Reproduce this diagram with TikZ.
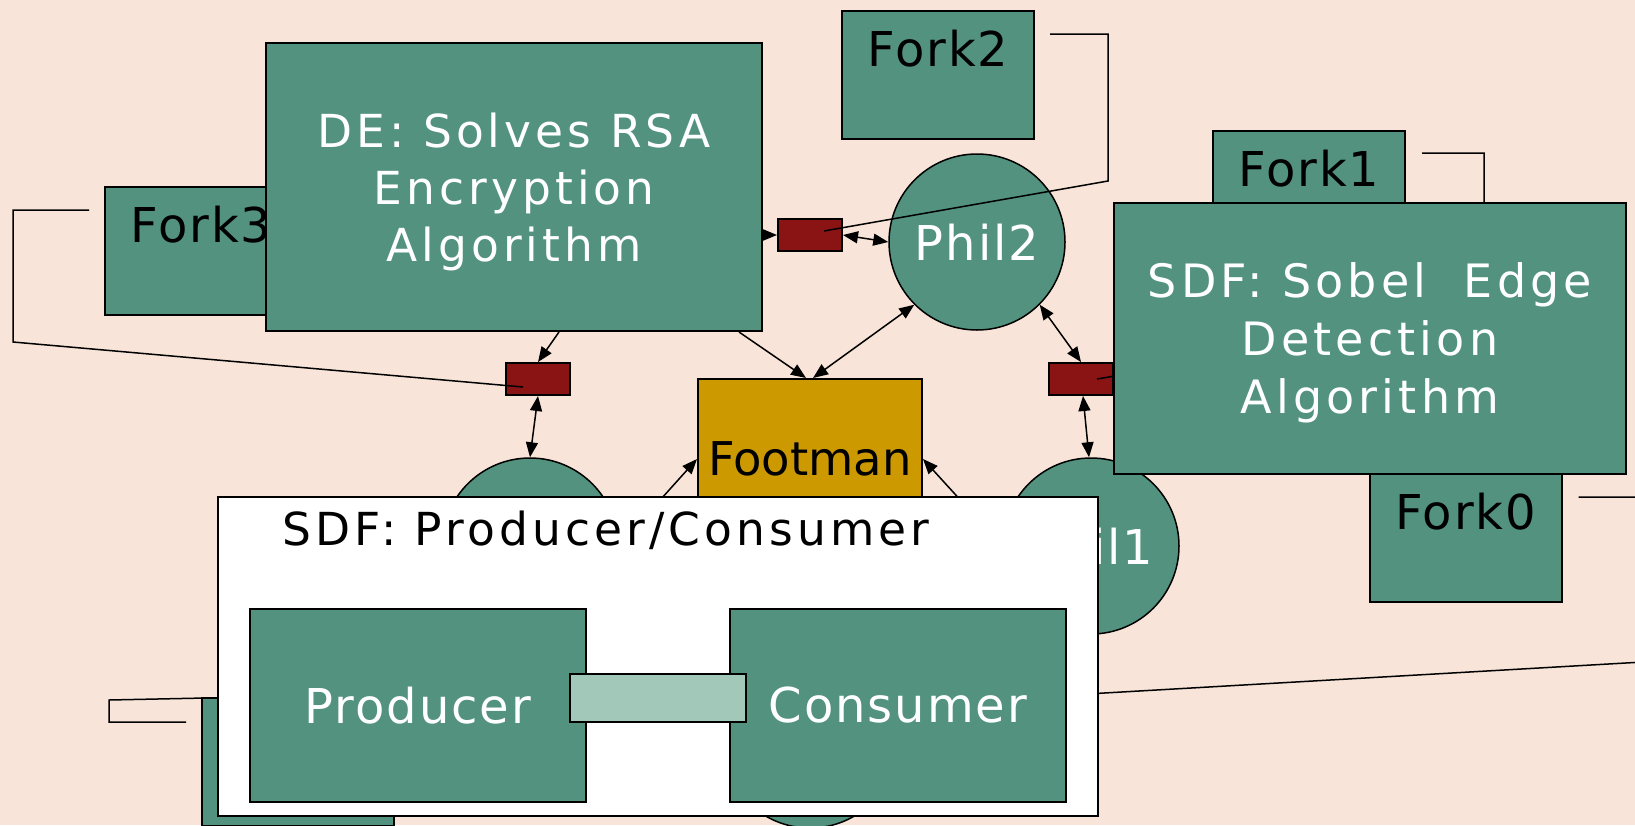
\documentclass[tikz,border=0pt]{standalone}
\usepackage{fontspec}
\setmainfont{DejaVu Sans}
\newfontfamily\FntWide[LetterSpace=9]{DejaVu Sans}
\newfontfamily\FntMid[LetterSpace=4]{DejaVu Sans}
\usetikzlibrary{arrows.meta,calc}
\definecolor{bgpeach}{RGB}{248,228,216}
\definecolor{boxgreen}{RGB}{82,146,126}
\definecolor{bufred}{RGB}{138,20,20}
\definecolor{footgold}{RGB}{204,153,0}
\definecolor{chanlight}{RGB}{162,200,186}
\begin{document}
\begin{tikzpicture}[x=1pt,y=-1pt,
  gbox/.style={rectangle,draw=black,line width=2pt,fill=boxgreen,inner sep=0pt},
  forkbox/.style={gbox,minimum width=192pt,minimum height=128pt},
  forklabel/.style={anchor=north,inner sep=0pt,yshift=-20pt,text=black,font=\FntMid\fontsize{48}{58}\selectfont},
  bigbox/.style={gbox,text=white,align=center,text depth=0pt,font=\FntWide\fontsize{45.5}{57}\selectfont},
  bufbox/.style={rectangle,draw=black,line width=2pt,fill=bufred,minimum width=64pt,minimum height=32pt,inner sep=0pt},
  phil/.style={circle,draw=black,line width=1.5pt,fill=boxgreen,minimum size=176pt,inner sep=0pt,text=white,font=\FntMid\fontsize{48}{58}\selectfont},
  actor/.style={gbox,minimum width=336pt,minimum height=193pt,text=white,font=\FntMid\fontsize{48}{58}\selectfont},
  conn/.style={line width=1.5pt},
  arr/.style={line width=1.5pt,-{Triangle[length=15pt,width=12pt]}},
  darr/.style={line width=1.5pt,{Triangle[length=15pt,width=12pt]}-{Triangle[length=15pt,width=12pt]}}
]
\useasboundingbox (0,0) rectangle (1635,825);
\fill[bgpeach] (0,0) rectangle (1635,825);
\clip (0,0) rectangle (1635,825);

% forks behind
\node[forkbox,label={[forklabel]north:Fork3}] (fork3) at (201,251) {};
\node[forkbox,label={[forklabel]north:Fork2}] (fork2) at (938,75) {};
\node[forkbox,label={[forklabel]north:Fork1}] (fork1) at (1309,195) {};

% buffers
\node[bufbox] (buftop) at (810,235) {};
\node[bufbox] (bufL) at (538,379) {};
\node[bufbox] (bufR) at (1081,379) {};

% philosophers (Phil3 and Phil0 are hidden behind the SDF box)
\node[phil] (phil2) at (977,242) {Phil2};
\node[phil] (phil3) at (530,546) {};
\node[phil] (phil1) at (1091,546) {Phil1};
\node[phil] (phil0) at (810,740) {};

% footman
\node[rectangle,draw=black,line width=2pt,fill=footgold,minimum width=224pt,minimum height=160pt,inner sep=0pt,
      font=\fontsize{46.5}{56}\selectfont] (footman) at (810,459) {Footman};

% fork connectors
\draw[conn] ($(fork3.north west)+(-15,24)$) -| ($(fork3.north west)+(-91,156)$) -- ($(bufL.center)+(-15,8)$);
\draw[conn] ($(fork2.north east)+(15,24)$) -| ($(fork2.north east)+(73,171)$) -- ($(buftop.center)+(14,-4)$);
\draw[conn] ($(fork1.north east)+(16,23)$) -| ($(fork1.north east)+(78,184)$) -- ($(bufR.center)+(16,0)$);

% DE box
\node[bigbox,minimum width=496pt,minimum height=288pt] (de) at (514,187) {DE: Solves RSA\\Encryption\\Algorithm};

% arrows
\draw[arr] (de.east |- buftop.west) -- (buftop.west);
\draw[darr] (buftop.east) -- (phil2.west);
\draw[arr] ($(de.south west)+(294,0)$) -- (bufL.north);
\draw[darr] (bufL.south) -- (phil3.north);
\draw[arr] ($(de.south west)+(474,0)$) -- ($(footman.north)+(-4,0)$);
\draw[darr] ($(footman.north)+(3,0)$) -- (phil2.south west);
\draw[darr] (phil2.south east) -- (bufR.north);
\draw[darr] ($(bufR.south)+(2,0)$) -- ($(phil1.north)+(-2,0)$);
\draw[arr] (phil3.east) -- (footman.west);
\draw[arr] (phil1.west) -- (footman.east);

% Sobel box
\node[bigbox,minimum width=512pt,minimum height=271pt,font=\FntWide\fontsize{46}{58}\selectfont] (sobel) at (1370,338.5) {SDF: Sobel\ \ Edge\\Detection\\Algorithm};

% Fork0 and Fork4
\node[forkbox,label={[forklabel]north:Fork0}] (fork0) at (1465.5,538) {};
\coordinate (f0end) at (1000,699);
\draw[conn] ($(fork0.north east)+(16,24)$) -| ($(fork0.north east)+(98,188)$) -- (f0end);
\node[forkbox] (fork4) at (298,762) {};
\coordinate (f4end) at (640,689);
\draw[conn] ($(fork4.north west)+(-15,25)$) -| ($(fork4.north west)+(-92,3)$) -- (f4end);

% SDF producer/consumer
\node[rectangle,draw=black,line width=2pt,fill=white,minimum width=880pt,minimum height=319pt,inner sep=0pt,
      label={[anchor=north west,inner sep=0pt,xshift=65pt,yshift=-15pt,text=black,font=\FntWide\fontsize{45.5}{56}\selectfont]north west:SDF: Producer/Consumer}] (sdf) at (658,656.5) {};
\node[actor] (producer) at (418,705.5) {Producer};
\node[actor] (consumer) at (898,705.5) {Consumer};
\node[rectangle,draw=black,line width=1.5pt,fill=chanlight,minimum width=176pt,minimum height=48pt,inner sep=0pt] (chan) at (658,698) {};
\end{tikzpicture}
\end{document}
